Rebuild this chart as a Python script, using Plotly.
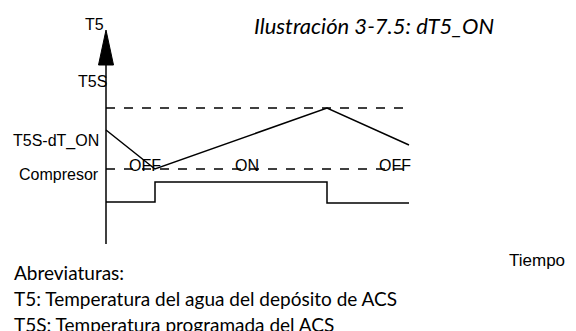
import plotly.graph_objects as go

# time axis origin at the T5 axis; temperature in arbitrary units (bottom of page = 0)
time = [0, 49, 221, 303]
t5 = [201, 162, 223, 186]

comp_time = [0, 49, 49, 221, 221, 303]
comp_state = [129, 129, 149, 149, 128, 128]

t5s_level = 223
dt_on_level = 162
dash_time = [0, 300]

state_labels = ["OFF", "ON", "OFF"]
state_time = [39, 141, 289]

axis_time = [0, 0]
axis_temp = [87, 266]
arrow_time = [-7.5, 0, 7.5, -7.5]
arrow_temp = [266, 301, 266, 266]

abbrev = [
    "Abreviaturas:",
    "T5: Temperatura del agua del depósito de ACS",
    "T5S: Temperatura programada del ACS",
]

diag_font = dict(family="Liberation Sans, Arial", size=16, color="black")
text_font = dict(family="Lato", size=19, color="black")

fig = go.Figure()

# set levels (dashed)
for lvl in [t5s_level, dt_on_level]:
    fig.add_trace(go.Scatter(x=dash_time, y=[lvl, lvl], mode="lines",
                             line=dict(color="black", width=1.3, dash="dash")))

fig.add_trace(go.Scatter(x=time, y=t5, mode="lines",
                         line=dict(color="black", width=1.5)))
fig.add_trace(go.Scatter(x=comp_time, y=comp_state, mode="lines",
                         line=dict(color="black", width=1.5)))

# vertical T5 axis with arrow head
fig.add_trace(go.Scatter(x=axis_time, y=axis_temp, mode="lines",
                         line=dict(color="black", width=1.5)))
fig.add_trace(go.Scatter(x=arrow_time, y=arrow_temp, mode="lines", fill="toself",
                         fillcolor="black", line=dict(color="black", width=1)))

for lbl, t in zip(state_labels, state_time):
    fig.add_annotation(x=t, y=dt_on_level + 4, text=lbl, showarrow=False,
                       font=diag_font)

fig.add_annotation(x=-5, y=190, text="T5S-dT_ON", showarrow=False,
                   xanchor="right", font=diag_font)
fig.add_annotation(x=-5, y=157, text="Compresor", showarrow=False,
                   xanchor="right", font=diag_font)
fig.add_annotation(x=3, y=250, text="T5S", showarrow=False,
                   xanchor="right", font=diag_font)
fig.add_annotation(x=0, y=307, text="T5", showarrow=False,
                   xanchor="right", font=diag_font)

fig.add_annotation(x=146, y=306, text="<i>Ilustración 3-7.5: dT5_ON</i>",
                   showarrow=False, xanchor="left",
                   font=dict(family="Lato", size=22, color="black"))
fig.add_annotation(x=461, y=71, text="Tiempo", showarrow=False,
                   xanchor="right", font=dict(family="Liberation Sans, Arial", size=17, color="black"))

for i, line in enumerate(abbrev):
    fig.add_annotation(x=-94, y=59 - 26 * i, text=line, showarrow=False,
                       xanchor="left", font=text_font)

fig.update_layout(
    width=568, height=323,
    margin=dict(l=0, r=0, t=0, b=0),
    paper_bgcolor="white", plot_bgcolor="white",
    showlegend=False,
    xaxis=dict(range=[-98, 470], visible=False, fixedrange=True),
    yaxis=dict(range=[0, 323], visible=False, fixedrange=True),
)

fig.write_html("out.html", config={"displayModeBar": False})
